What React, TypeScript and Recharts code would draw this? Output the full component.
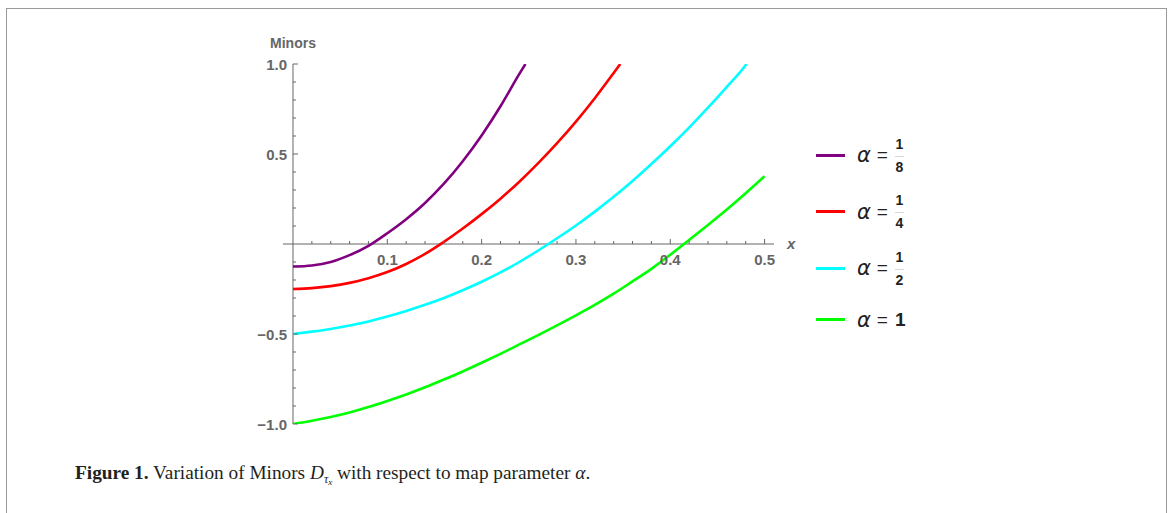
import React from "react";
import { LineChart, Line, XAxis, YAxis, ReferenceLine } from "recharts";

// x positions and Minors values, one list per alpha
const purpleX = [0, 0.02, 0.04, 0.06, 0.08, 0.1, 0.12, 0.14, 0.16, 0.18, 0.2, 0.22, 0.24, 0.2465];
const purpleY = [-0.125, -0.119, -0.1, -0.062, -0.01, 0.06, 0.138, 0.228, 0.335, 0.46, 0.603, 0.765, 0.945, 1.0];

const redX = [0, 0.02, 0.04, 0.06, 0.08, 0.1, 0.12, 0.14, 0.16, 0.18, 0.2, 0.22, 0.24, 0.26, 0.28, 0.3, 0.32, 0.34, 0.347];
const redY = [-0.25, -0.245, -0.234, -0.216, -0.19, -0.156, -0.111, -0.055, 0.012, 0.086, 0.166, 0.252, 0.346, 0.449, 0.56, 0.68, 0.81, 0.95, 1.0];

const cyanX = [0, 0.02, 0.04, 0.06, 0.08, 0.1, 0.12, 0.14, 0.16, 0.18, 0.2, 0.22, 0.24, 0.26, 0.28, 0.3, 0.32, 0.34, 0.36, 0.38, 0.4, 0.42, 0.44, 0.46, 0.48, 0.4808];
const cyanY = [-0.5, -0.487, -0.472, -0.453, -0.43, -0.403, -0.372, -0.338, -0.3, -0.257, -0.21, -0.158, -0.1, -0.036, 0.032, 0.103, 0.18, 0.262, 0.35, 0.444, 0.543, 0.647, 0.757, 0.873, 0.994, 1.0];

const greenX = [0, 0.02, 0.04, 0.06, 0.08, 0.1, 0.12, 0.14, 0.16, 0.18, 0.2, 0.22, 0.24, 0.26, 0.28, 0.3, 0.32, 0.34, 0.36, 0.38, 0.4, 0.42, 0.44, 0.46, 0.48, 0.5];
const greenY = [-1, -0.982, -0.961, -0.936, -0.906, -0.872, -0.836, -0.796, -0.753, -0.708, -0.66, -0.61, -0.558, -0.506, -0.452, -0.396, -0.338, -0.276, -0.208, -0.138, -0.06, 0.022, 0.106, 0.192, 0.282, 0.376];

const xMajorTicks = [0.1, 0.2, 0.3, 0.4, 0.5];
const xMinorTicks = [0.02, 0.04, 0.06, 0.08, 0.12, 0.14, 0.16, 0.18, 0.22, 0.24, 0.26, 0.28, 0.32, 0.34, 0.36, 0.38, 0.42, 0.44, 0.46, 0.48];
const yMajorTicks = [-1, -0.5, 0.5, 1];
const yMinorTicks = [-0.9, -0.8, -0.7, -0.6, -0.4, -0.3, -0.2, -0.1, 0.1, 0.2, 0.3, 0.4, 0.6, 0.7, 0.8, 0.9];

const seriesNames = ["1/8", "1/4", "1/2", "1"];
const seriesColors = ["#800080", "#ff0000", "#00ffff", "#00ff00"];

const toPoints = (xs: number[], ys: number[]) => xs.map((x, i) => ({ x, y: ys[i] }));
const seriesData = [
  toPoints(purpleX, purpleY),
  toPoints(redX, redY),
  toPoints(cyanX, cyanY),
  toPoints(greenX, greenY),
];

const W = 1172;
const H = 513;
const X_AXIS_H = 30;
const Y_AXIS_W = 40;
// plot box: 283..774 horizontally, 64..424 vertically
const M = { top: 64, right: 398, bottom: 89 - X_AXIS_H, left: 283 - Y_AXIS_W };
const X_DOMAIN: [number, number] = [-0.0106, 0.51];
const Y_DOMAIN: [number, number] = [-1, 1];
const plotLeft = 283;
const plotW = 491;
const plotH = 360;
const zeroX = plotLeft + (plotW * (0 - X_DOMAIN[0])) / (X_DOMAIN[1] - X_DOMAIN[0]);
const zeroY = M.top + (plotH * (Y_DOMAIN[1] - 0)) / (Y_DOMAIN[1] - Y_DOMAIN[0]);

const AXIS = "#666666";
const tickFont = { fontFamily: "'Liberation Sans', Arial, sans-serif", fontSize: 15, fontWeight: 700, fill: "#666666" };

const fmt = (v: number) => (v < 0 ? "\u2212" + Math.abs(v).toFixed(1) : v.toFixed(1));

function XTick(props: any) {
  const { x, payload } = props;
  const major = xMajorTicks.includes(payload.value);
  return (
    <g>
      <line x1={x} x2={x} y1={zeroY} y2={zeroY - (major ? 5 : 3)} stroke={AXIS} strokeWidth={1} />
      {major && (
        <text x={x} y={zeroY + 21} textAnchor="middle" {...tickFont}>
          {fmt(payload.value)}
        </text>
      )}
    </g>
  );
}

function YTick(props: any) {
  const { y, payload } = props;
  const major = yMajorTicks.includes(payload.value);
  return (
    <g>
      <line x1={zeroX} x2={zeroX + (major ? 5 : 3)} y1={y} y2={y} stroke={AXIS} strokeWidth={1} />
      {major && (
        <text x={zeroX - 6} y={y + 5.5} textAnchor="end" {...tickFont}>
          {fmt(payload.value)}
        </text>
      )}
    </g>
  );
}

function Alpha({ name }: { name: string }) {
  const [num, den] = name.split("/");
  return (
    <span style={{ display: "inline-flex", alignItems: "center", fontFamily: "'Liberation Sans', Arial, sans-serif", color: "#222", fontSize: 19 }}>
      <span style={{ fontStyle: "italic", fontFamily: "'DejaVu Sans', sans-serif", fontSize: 21 }}>α</span>
      <span style={{ margin: "0 7px 0 6px" }}>=</span>
      {den ? (
        <span style={{ display: "inline-flex", flexDirection: "column", alignItems: "center", fontSize: 14, fontWeight: 700, lineHeight: "14px" }}>
          <span>{num}</span>
          <span style={{ width: 9, borderTop: "1px solid #d8d8d8", margin: "5px 0 3px" }} />
          <span>{den}</span>
        </span>
      ) : (
        <span style={{ fontWeight: 700 }}>{num}</span>
      )}
    </span>
  );
}

export default function App() {
  return (
    <div style={{ position: "fixed", left: 0, top: 0, width: W, height: H, overflow: "hidden", background: "#fff" }}>
      <div style={{ position: "absolute", left: 6, top: 8, width: 1159, height: 560, border: "1px solid #9a9a9a" }} />
      <div style={{ position: "absolute", left: 0, top: 0 }}>
        <LineChart width={W} height={H} margin={M}>
          <XAxis
            type="number"
            dataKey="x"
            domain={X_DOMAIN}
            allowDataOverflow
            ticks={[...xMinorTicks, ...xMajorTicks]}
            interval={0}
            axisLine={false}
            tickLine={false}
            tick={<XTick />}
            height={X_AXIS_H}
          />
          <YAxis
            type="number"
            dataKey="y"
            domain={Y_DOMAIN}
            allowDataOverflow
            ticks={[...yMinorTicks, ...yMajorTicks]}
            interval={0}
            axisLine={false}
            tickLine={false}
            tick={<YTick />}
            width={Y_AXIS_W}
          />
          <ReferenceLine
            y={0}
            stroke={AXIS}
            strokeWidth={1}
            label={{ value: "x", position: "right", offset: 13, ...tickFont, fontStyle: "italic" }}
          />
          <ReferenceLine
            x={0}
            stroke={AXIS}
            strokeWidth={1}
            label={{ value: "Minors", position: "top", offset: 16, ...tickFont, fontSize: 14 }}
          />
          {seriesData.map((d, i) => (
            <Line
              key={seriesNames[i]}
              data={d}
              dataKey="y"
              name={seriesNames[i]}
              type="monotone"
              stroke={seriesColors[i]}
              strokeWidth={2.6}
              dot={false}
              isAnimationActive={false}
            />
          ))}
        </LineChart>
      </div>
      <div style={{ position: "absolute", left: 816, top: 127 }}>
        {seriesNames.map((n, i) => (
          <div key={n} style={{ display: "flex", alignItems: "center", height: i < 3 ? 56.5 : 46 }}>
            <span style={{ width: 29, height: 3, background: seriesColors[i], marginRight: 12 }} />
            <Alpha name={n} />
          </div>
        ))}
      </div>
      <div
        style={{
          position: "absolute",
          left: 75,
          top: 462,
          fontFamily: "'Liberation Serif', 'Times New Roman', serif",
          fontSize: 19.3,
          lineHeight: "22px",
          color: "#231f20",
          whiteSpace: "nowrap",
        }}
      >
        <b>Figure 1.</b> Variation of Minors{" "}
        <i>D</i>
        <sub style={{ fontSize: 12, verticalAlign: "-4px" }}>
          <i>τ</i>
          <sub style={{ fontSize: 9, verticalAlign: "-2px" }}>
            <i>x</i>
          </sub>
        </sub>{" "}
        with respect to map parameter <i>α</i>.
      </div>
    </div>
  );
}
